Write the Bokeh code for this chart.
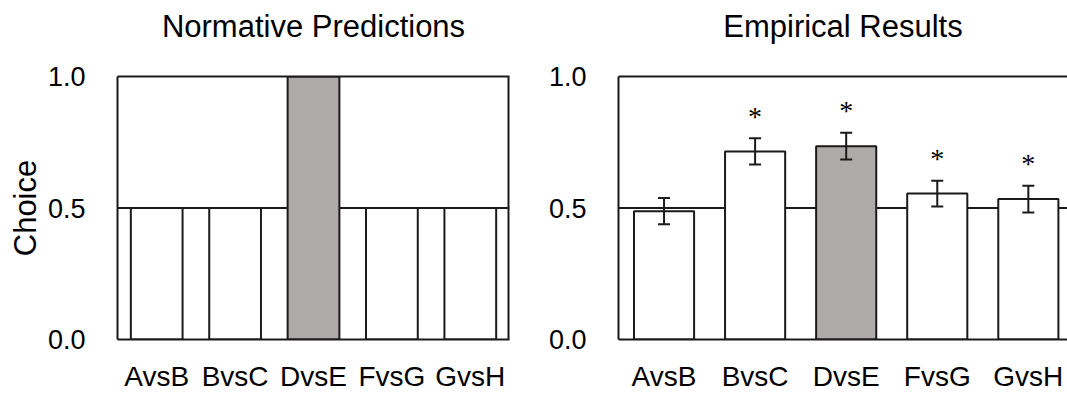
from bokeh.plotting import figure
from bokeh.layouts import row
from bokeh.models import (ColumnDataSource, FixedTicker, PrintfTickFormatter, Range1d,
                          Span, Whisker, LabelSet, TeeHead, LinearAxis)
from bokeh.embed import file_html
from bokeh.resources import INLINE

# Pair comparisons and choice proportions
pairs = ["AvsB", "BvsC", "DvsE", "FvsG", "GvsH"]
normative = [0.5, 0.5, 1.0, 0.5, 0.5]
empirical = [0.488, 0.715, 0.735, 0.555, 0.534]
empirical_err = [0.05, 0.05, 0.051, 0.049, 0.051]
significance = ["", "*", "*", "*", "*"]
highlight = "DvsE"
y_ticks = [0.0, 0.5, 1.0]
chance = 0.5

FONT = "Liberation Sans"
INK = "#1a1a1a"
GREY = "#aeaaa9"
LW = 2
fills = [GREY if c == highlight else "white" for c in pairs]
xpos = [i + 0.5 for i in range(len(pairs))]


def make_panel(title, width, x_end, border_left, border_right):
    p = figure(x_range=Range1d(0, x_end), y_range=Range1d(0, 1),
               width=width, height=394,
               output_backend="svg", toolbar_location=None,
               min_border_left=border_left, min_border_right=border_right,
               min_border_top=76, min_border_bottom=51)
    p.xgrid.grid_line_color = None
    p.ygrid.grid_line_color = None
    p.outline_line_color = None

    for ax in (p.xaxis[0], p.yaxis[0]):
        ax.axis_line_color = INK
        ax.axis_line_width = LW
        ax.major_tick_line_color = None
        ax.minor_tick_line_color = None
        ax.major_label_text_font = FONT
        ax.major_label_text_color = "black"
    p.yaxis.major_label_text_font_size = "27px"
    p.xaxis.major_label_text_font_size = "28px"

    p.yaxis.ticker = FixedTicker(ticks=y_ticks)
    p.yaxis.formatter = PrintfTickFormatter(format="%.1f")
    p.yaxis.major_label_standoff = 26
    p.xaxis.ticker = FixedTicker(ticks=xpos)
    p.xaxis.major_label_overrides = {x: name for x, name in zip(xpos, pairs)}
    p.xaxis.major_label_standoff = 15

    # top edge of the frame, carrying the panel heading
    top = LinearAxis(ticker=FixedTicker(ticks=[]), axis_line_color=INK,
                     axis_line_width=LW, major_tick_line_color=None,
                     minor_tick_line_color=None,
                     axis_label=title, axis_label_standoff=33,
                     axis_label_text_font=FONT, axis_label_text_font_size="31px",
                     axis_label_text_font_style="normal",
                     axis_label_text_color="black")
    p.add_layout(top, "above")

    p.add_layout(Span(location=chance, dimension="width", line_color=INK,
                      line_width=LW, level="underlay"))
    p.background_fill_color = "white"
    p.border_fill_color = "white"
    return p


# Left panel: normative predictions
left_src = ColumnDataSource(dict(x=xpos, value=normative, fill=fills))
left = make_panel("Normative Predictions", 540, len(pairs), 117, 31)
left.add_layout(Span(location=len(pairs), dimension="height", line_color=INK,
                     line_width=2 * LW, level="overlay"))
left.yaxis.axis_label = "Choice"
left.yaxis.axis_label_text_font = FONT
left.yaxis.axis_label_text_font_size = "31px"
left.yaxis.axis_label_text_font_style = "normal"
left.yaxis.axis_label_text_color = "black"
left.yaxis.axis_label_standoff = 2
left.vbar(x="x", top="value", bottom=0, width=0.66, source=left_src,
          fill_color="fill", line_color=INK, line_width=LW)

# Right panel: empirical results with error bars and significance marks.
# The panel runs past the right edge, so slightly fewer than five full
# category slots are visible.
visible_slots = 4.93
lo = [v - e for v, e in zip(empirical, empirical_err)]
hi = [v + e for v, e in zip(empirical, empirical_err)]
right_src = ColumnDataSource(dict(x=xpos, value=empirical, fill=fills, lo=lo, hi=hi))
right = make_panel("Empirical Results", 527, visible_slots, 78, 0)

right.vbar(x="x", top="value", bottom=0, width=0.66, source=right_src,
           fill_color="fill", line_color=INK, line_width=LW)

whisk = Whisker(source=right_src, base="x", lower="lo", upper="hi",
                line_color=INK, line_width=LW, level="overlay",
                upper_head=TeeHead(size=12, line_color=INK, line_width=LW),
                lower_head=TeeHead(size=12, line_color=INK, line_width=LW))
right.add_layout(whisk)

marked = [i for i, s in enumerate(significance) if s]
star_src = ColumnDataSource(dict(x=[xpos[i] for i in marked],
                                 y=[hi[i] for i in marked],
                                 sig=[significance[i] for i in marked]))
stars = LabelSet(x="x", y="y", text="sig", source=star_src,
                 y_offset=22, text_align="center", text_baseline="middle",
                 text_font=FONT, text_font_size="28px", text_color="black")
right.add_layout(stars)

layout = row(left, right, spacing=0)

open("out.html", "w").write(file_html(layout, INLINE))
